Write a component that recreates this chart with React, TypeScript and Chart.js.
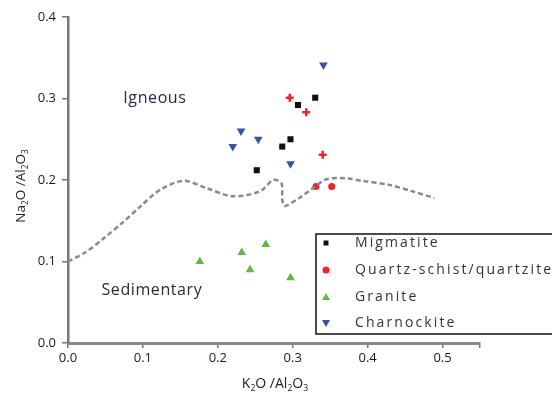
import React, { useEffect, useRef } from 'react';
import { Chart, registerables } from 'chart.js';
Chart.register(...registerables);

// Data
const migX = [0.330, 0.307, 0.297, 0.286, 0.252];
const migY = [0.301, 0.292, 0.250, 0.241, 0.212];
const qzX = [0.331, 0.352, 0.296, 0.318, 0.340];
const qzY = [0.192, 0.192, 0.301, 0.283, 0.231];
const qzStyle = ['circle', 'circle', 'cross', 'cross', 'cross'];
const grX = [0.176, 0.232, 0.264, 0.243, 0.297];
const grY = [0.100, 0.111, 0.121, 0.090, 0.080];
const chX = [0.341, 0.231, 0.254, 0.220, 0.297];
const chY = [0.341, 0.260, 0.250, 0.241, 0.220];
const curveX = [0.000, 0.023, 0.047, 0.072, 0.096, 0.123, 0.154, 0.185, 0.220, 0.256, 0.274, 0.285, 0.286, 0.289, 0.309, 0.327, 0.345, 0.372, 0.393, 0.429, 0.460, 0.489];
const curveY = [0.100, 0.111, 0.128, 0.147, 0.167, 0.188, 0.199, 0.190, 0.180, 0.186, 0.200, 0.196, 0.176, 0.168, 0.178, 0.190, 0.201, 0.202, 0.199, 0.194, 0.186, 0.178];
const seriesNames = ['Migmatite', 'Quartz-schist/quartzite', 'Granite', 'Charnockite'];
const regionLabels = ['Igneous', 'Sedimentary'];
const xTickValues = [0, 0.1, 0.2, 0.3, 0.4, 0.5];

const colors = { mig: '#111111', qz: '#e8262b', gr: '#62b846', ch: '#3b4fa3' };
const FONT = "'Open Sans', 'DejaVu Sans', sans-serif";

const zip = (xs: number[], ys: number[]) => xs.map((x, i) => ({ x, y: ys[i] }));

type Part = { t: string; sub?: boolean };
function richWidth(ctx: CanvasRenderingContext2D, parts: Part[], size: number) {
  let w = 0;
  for (const p of parts) {
    ctx.font = `${p.sub ? size * 0.62 : size}px ${FONT}`;
    w += ctx.measureText(p.t).width;
  }
  return w;
}
function drawRich(ctx: CanvasRenderingContext2D, parts: Part[], x: number, y: number, size: number) {
  const w = richWidth(ctx, parts, size);
  let cx = x - w / 2;
  ctx.textBaseline = 'middle';
  ctx.textAlign = 'left';
  for (const p of parts) {
    ctx.font = `${p.sub ? size * 0.62 : size}px ${FONT}`;
    ctx.fillText(p.t, cx, p.sub ? y + size * 0.32 : y);
    cx += ctx.measureText(p.t).width;
  }
}

function drawMarker(ctx: CanvasRenderingContext2D, kind: string, x: number, y: number, color: string) {
  ctx.save();
  ctx.fillStyle = color;
  ctx.strokeStyle = color;
  ctx.beginPath();
  if (kind === 'rect') {
    ctx.rect(x - 2.5, y - 2.5, 5, 5);
    ctx.fill();
  } else if (kind === 'circle') {
    ctx.arc(x, y, 3.5, 0, Math.PI * 2);
    ctx.fill();
  } else if (kind === 'up') {
    ctx.moveTo(x, y - 4);
    ctx.lineTo(x + 4, y + 3);
    ctx.lineTo(x - 4, y + 3);
    ctx.closePath();
    ctx.fill();
  } else if (kind === 'down') {
    ctx.moveTo(x, y + 4);
    ctx.lineTo(x + 4, y - 3);
    ctx.lineTo(x - 4, y - 3);
    ctx.closePath();
    ctx.fill();
  }
  ctx.restore();
}

const overlayPlugin = {
  id: 'overlay',
  afterDraw(chart: any) {
    const ctx: CanvasRenderingContext2D = chart.ctx;
    const xs = chart.scales.x;
    const ys = chart.scales.y;
    ctx.save();
    // Region labels
    ctx.fillStyle = '#2b2350';
    ctx.textBaseline = 'middle';
    ctx.textAlign = 'center';
    ctx.font = `16px ${FONT}`;
    (ctx as any).letterSpacing = '0.6px';
    ctx.fillText(regionLabels[0], xs.getPixelForValue(0.116), ys.getPixelForValue(0.300));
    ctx.fillStyle = '#2a2a3c';
    ctx.font = `16px ${FONT}`;
    (ctx as any).letterSpacing = '0.6px';
    ctx.fillText(regionLabels[1], xs.getPixelForValue(0.112), ys.getPixelForValue(0.065));
    (ctx as any).letterSpacing = '0px';

    // Axis titles
    ctx.fillStyle = '#222';
    drawRich(ctx, [{ t: 'K' }, { t: '2', sub: true }, { t: 'O /Al' }, { t: '2', sub: true }, { t: 'O' }, { t: '3', sub: true }], 275, 384, 14);
    ctx.save();
    ctx.translate(21, 186);
    ctx.rotate(-Math.PI / 2);
    drawRich(ctx, [{ t: 'Na' }, { t: '2', sub: true }, { t: 'O /Al' }, { t: '2', sub: true }, { t: 'O' }, { t: '3', sub: true }], 0, 0, 13.5);
    ctx.restore();

    // Legend
    const lx = 316, ly = 234, lw = 260, lh = 100;
    ctx.fillStyle = '#ffffff';
    ctx.fillRect(lx, ly, lw, lh);
    ctx.strokeStyle = '#111';
    ctx.lineWidth = 1.5;
    ctx.strokeRect(lx, ly, lw, lh);
    const kinds = ['rect', 'circle', 'up', 'down'];
    const cols = [colors.mig, colors.qz, colors.gr, colors.ch];
    const rowY = [243, 270, 297, 323];
    ctx.font = `14px ${FONT}`;
    (ctx as any).letterSpacing = '2.1px';
    ctx.textAlign = 'left';
    ctx.textBaseline = 'middle';
    for (let i = 0; i < 4; i++) {
      drawMarker(ctx, kinds[i], 326, rowY[i], cols[i]);
      ctx.fillStyle = '#333';
      ctx.fillText(seriesNames[i], 355, rowY[i]);
    }
    (ctx as any).letterSpacing = '0px';
    ctx.restore();
  },
};

export default function App() {
  const ref = useRef<HTMLCanvasElement | null>(null);
  useEffect(() => {
    if (!ref.current) return;
    const chart = new Chart(ref.current, {
      type: 'scatter',
      data: {
        datasets: [
          {
            label: 'Boundary',
            type: 'line',
            data: zip(curveX, curveY),
            borderColor: '#8a8a8a',
            borderWidth: 2.5,
            borderDash: [5, 3],
            pointRadius: 0,
            tension: 0.3,
            fill: false,
          } as any,
          {
            label: seriesNames[0],
            data: zip(migX, migY),
            pointStyle: 'rect',
            pointRadius: 4.3,
            backgroundColor: colors.mig,
            borderColor: colors.mig,
            borderWidth: 0,
          },
          {
            label: seriesNames[1],
            data: zip(qzX, qzY),
            pointStyle: qzStyle as any,
            pointRadius: [3.5, 3.5, 4, 4, 4] as any,
            backgroundColor: colors.qz,
            borderColor: colors.qz,
            borderWidth: [0, 0, 2.5, 2.5, 2.5] as any,
          },
          {
            label: seriesNames[2],
            data: zip(grX, grY),
            pointStyle: 'triangle',
            pointRadius: 5,
            backgroundColor: colors.gr,
            borderColor: colors.gr,
            borderWidth: 0,
          },
          {
            label: seriesNames[3],
            data: zip(chX, chY),
            pointStyle: 'triangle',
            rotation: 180,
            pointRadius: 5,
            backgroundColor: colors.ch,
            borderColor: colors.ch,
            borderWidth: 0,
          },
        ],
      },
      options: {
        animation: false,
        responsive: true,
        maintainAspectRatio: false,
        layout: { padding: { left: 0, top: 17, right: 72, bottom: 0 } },
        plugins: { legend: { display: false }, tooltip: { enabled: false } },
        scales: {
          x: {
            type: 'linear',
            min: 0,
            max: 0.55,
            afterBuildTicks: (s: any) => {
              s.ticks = [...xTickValues, 0.55].map((v) => ({ value: v }));
            },
            afterFit: (s: any) => {
              s.height = 52;
            },
            ticks: {
              callback: (v: any) => (Number(v) > 0.51 ? '' : Number(v).toFixed(1)),
              color: '#1a1a1a',
              font: { family: FONT, size: 13 },
              padding: 2,
            },
            grid: { display: true, drawOnChartArea: false, drawTicks: true, tickLength: 5, color: '#777', lineWidth: 1.5 },
            border: { display: true, color: '#8a8a8a', width: 3 },
          },
          y: {
            type: 'linear',
            min: 0,
            max: 0.4,
            ticks: {
              stepSize: 0.1,
              callback: (v: any) => Number(v).toFixed(1),
              color: '#1a1a1a',
              font: { family: FONT, size: 13 },
              padding: 6,
            },
            afterFit: (s: any) => {
              s.width = 68;
            },
            grid: { display: true, drawOnChartArea: false, drawTicks: true, tickLength: 6, color: '#777', lineWidth: 1.5 },
            border: { display: true, color: '#777', width: 2.5 },
          },
        },
      },
      plugins: [overlayPlugin],
    });
    return () => chart.destroy();
  }, []);
  return (
    <div style={{ position: 'fixed', left: 0, top: 0, width: 552, height: 395, background: '#fff' }}>
      <canvas ref={ref} />
    </div>
  );
}
